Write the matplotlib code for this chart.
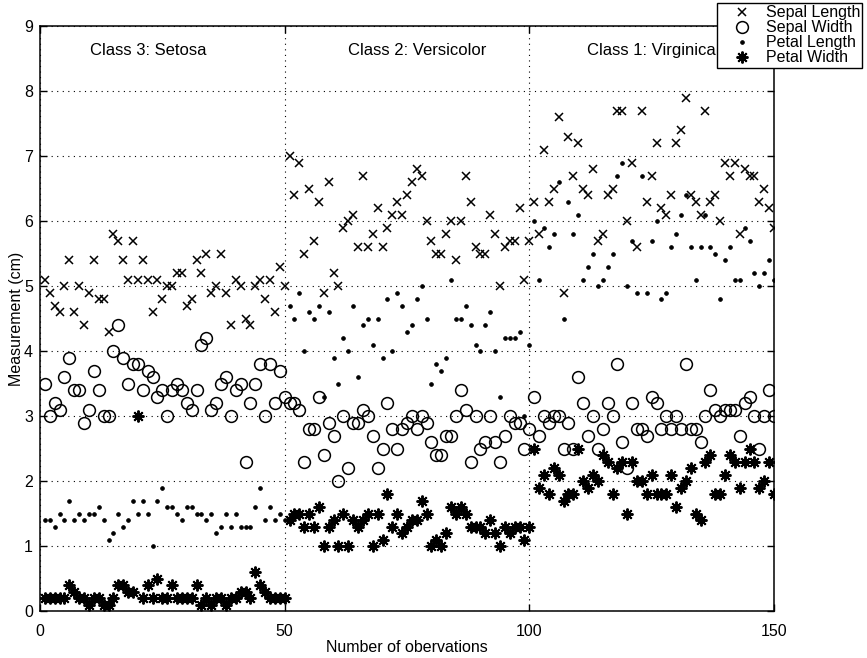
import matplotlib
matplotlib.use("Agg")
import matplotlib.pyplot as plt
import numpy as np

plt.rcParams['font.family'] = ['Liberation Sans', 'DejaVu Sans']

# Fisher iris measurements, in file order (setosa, versicolor, virginica)
sepal_length = [
    5.1, 4.9, 4.7, 4.6, 5.0, 5.4, 4.6, 5.0, 4.4, 4.9, 5.4, 4.8, 4.8, 4.3, 5.8, 5.7, 5.4, 5.1, 5.7, 5.1,
    5.4, 5.1, 4.6, 5.1, 4.8, 5.0, 5.0, 5.2, 5.2, 4.7, 4.8, 5.4, 5.2, 5.5, 4.9, 5.0, 5.5, 4.9, 4.4, 5.1,
    5.0, 4.5, 4.4, 5.0, 5.1, 4.8, 5.1, 4.6, 5.3, 5.0,
    7.0, 6.4, 6.9, 5.5, 6.5, 5.7, 6.3, 4.9, 6.6, 5.2, 5.0, 5.9, 6.0, 6.1, 5.6, 6.7, 5.6, 5.8, 6.2, 5.6,
    5.9, 6.1, 6.3, 6.1, 6.4, 6.6, 6.8, 6.7, 6.0, 5.7, 5.5, 5.5, 5.8, 6.0, 5.4, 6.0, 6.7, 6.3, 5.6, 5.5,
    5.5, 6.1, 5.8, 5.0, 5.6, 5.7, 5.7, 6.2, 5.1, 5.7,
    6.3, 5.8, 7.1, 6.3, 6.5, 7.6, 4.9, 7.3, 6.7, 7.2, 6.5, 6.4, 6.8, 5.7, 5.8, 6.4, 6.5, 7.7, 7.7, 6.0,
    6.9, 5.6, 7.7, 6.3, 6.7, 7.2, 6.2, 6.1, 6.4, 7.2, 7.4, 7.9, 6.4, 6.3, 6.1, 7.7, 6.3, 6.4, 6.0, 6.9,
    6.7, 6.9, 5.8, 6.8, 6.7, 6.7, 6.3, 6.5, 6.2, 5.9,
]
sepal_width = [
    3.5, 3.0, 3.2, 3.1, 3.6, 3.9, 3.4, 3.4, 2.9, 3.1, 3.7, 3.4, 3.0, 3.0, 4.0, 4.4, 3.9, 3.5, 3.8, 3.8,
    3.4, 3.7, 3.6, 3.3, 3.4, 3.0, 3.4, 3.5, 3.4, 3.2, 3.1, 3.4, 4.1, 4.2, 3.1, 3.2, 3.5, 3.6, 3.0, 3.4,
    3.5, 2.3, 3.2, 3.5, 3.8, 3.0, 3.8, 3.2, 3.7, 3.3,
    3.2, 3.2, 3.1, 2.3, 2.8, 2.8, 3.3, 2.4, 2.9, 2.7, 2.0, 3.0, 2.2, 2.9, 2.9, 3.1, 3.0, 2.7, 2.2, 2.5,
    3.2, 2.8, 2.5, 2.8, 2.9, 3.0, 2.8, 3.0, 2.9, 2.6, 2.4, 2.4, 2.7, 2.7, 3.0, 3.4, 3.1, 2.3, 3.0, 2.5,
    2.6, 3.0, 2.6, 2.3, 2.7, 3.0, 2.9, 2.9, 2.5, 2.8,
    3.3, 2.7, 3.0, 2.9, 3.0, 3.0, 2.5, 2.9, 2.5, 3.6, 3.2, 2.7, 3.0, 2.5, 2.8, 3.2, 3.0, 3.8, 2.6, 2.2,
    3.2, 2.8, 2.8, 2.7, 3.3, 3.2, 2.8, 3.0, 2.8, 3.0, 2.8, 3.8, 2.8, 2.8, 2.6, 3.0, 3.4, 3.1, 3.0, 3.1,
    3.1, 3.1, 2.7, 3.2, 3.3, 3.0, 2.5, 3.0, 3.4, 3.0,
]
petal_length = [
    1.4, 1.4, 1.3, 1.5, 1.4, 1.7, 1.4, 1.5, 1.4, 1.5, 1.5, 1.6, 1.4, 1.1, 1.2, 1.5, 1.3, 1.4, 1.7, 1.5,
    1.7, 1.5, 1.0, 1.7, 1.9, 1.6, 1.6, 1.5, 1.4, 1.6, 1.6, 1.5, 1.5, 1.4, 1.5, 1.2, 1.3, 1.5, 1.3, 1.5,
    1.3, 1.3, 1.3, 1.6, 1.9, 1.4, 1.6, 1.4, 1.5, 1.4,
    4.7, 4.5, 4.9, 4.0, 4.6, 4.5, 4.7, 3.3, 4.6, 3.9, 3.5, 4.2, 4.0, 4.7, 3.6, 4.4, 4.5, 4.1, 4.5, 3.9,
    4.8, 4.0, 4.9, 4.7, 4.3, 4.4, 4.8, 5.0, 4.5, 3.5, 3.8, 3.7, 3.9, 5.1, 4.5, 4.5, 4.7, 4.4, 4.1, 4.0,
    4.4, 4.6, 4.0, 3.3, 4.2, 4.2, 4.2, 4.3, 3.0, 4.1,
    6.0, 5.1, 5.9, 5.6, 5.8, 6.6, 4.5, 6.3, 5.8, 6.1, 5.1, 5.3, 5.5, 5.0, 5.1, 5.3, 5.5, 6.7, 6.9, 5.0,
    5.7, 4.9, 6.7, 4.9, 5.7, 6.0, 4.8, 4.9, 5.6, 5.8, 6.1, 6.4, 5.6, 5.1, 5.6, 6.1, 5.6, 5.5, 4.8, 5.4,
    5.6, 5.1, 5.1, 5.9, 5.7, 5.2, 5.0, 5.2, 5.4, 5.1,
]
petal_width = [
    0.2, 0.2, 0.2, 0.2, 0.2, 0.4, 0.3, 0.2, 0.2, 0.1, 0.2, 0.2, 0.1, 0.1, 0.2, 0.4, 0.4, 0.3, 0.3, 3.0,
    0.2, 0.4, 0.2, 0.5, 0.2, 0.2, 0.4, 0.2, 0.2, 0.2, 0.2, 0.4, 0.1, 0.2, 0.1, 0.2, 0.2, 0.1, 0.2, 0.2,
    0.3, 0.3, 0.2, 0.6, 0.4, 0.3, 0.2, 0.2, 0.2, 0.2,
    1.4, 1.5, 1.5, 1.3, 1.5, 1.3, 1.6, 1.0, 1.3, 1.4, 1.0, 1.5, 1.0, 1.4, 1.3, 1.4, 1.5, 1.0, 1.5, 1.1,
    1.8, 1.3, 1.5, 1.2, 1.3, 1.4, 1.4, 1.7, 1.5, 1.0, 1.1, 1.0, 1.2, 1.6, 1.5, 1.6, 1.5, 1.3, 1.3, 1.3,
    1.2, 1.4, 1.2, 1.0, 1.3, 1.2, 1.3, 1.3, 1.1, 1.3,
    2.5, 1.9, 2.1, 1.8, 2.2, 2.1, 1.7, 1.8, 1.8, 2.5, 2.0, 1.9, 2.1, 2.0, 2.4, 2.3, 1.8, 2.2, 2.3, 1.5,
    2.3, 2.0, 2.0, 1.8, 2.1, 1.8, 1.8, 1.8, 2.1, 1.6, 1.9, 2.0, 2.2, 1.5, 1.4, 2.3, 2.4, 1.8, 1.8, 2.1,
    2.4, 2.3, 1.9, 2.3, 2.5, 2.3, 1.9, 2.0, 2.3, 1.8,
]

series_names = ["Sepal Length", "Sepal Width", "Petal Length", "Petal Width"]
class_labels = ["Class 3: Setosa", "Class 2: Versicolor", "Class 1: Virginica"]
class_label_x = [10.2, 63, 111.8]
x_ticks = [0, 50, 100, 150]
y_ticks = list(range(0, 10))

obs = np.arange(1, len(sepal_length) + 1)

fig = plt.figure(figsize=(8.67, 6.58), dpi=100)
ax = fig.add_axes([40 / 867, 1 - 611 / 658, 734 / 867, 585 / 658])

asterisk = (8, 2, 0)
styles = [
    dict(marker='x', ms=6, mew=1.1, mfc='none'),
    dict(marker='o', ms=8.5, mew=1.1, mfc='none'),
    dict(marker='.', ms=5.5, mew=0.5),
    dict(marker=asterisk, ms=8.5, mew=1.4),
]
handles = []
for vals, name, st in zip([sepal_length, sepal_width, petal_length, petal_width],
                          series_names, styles):
    h, = ax.plot(obs, vals, linestyle='none', color='black', mec='black', label=name, **st)
    handles.append(h)

ax.set_xlim(0, 150)
ax.set_ylim(0, 9)
ax.set_xticks(x_ticks)
ax.set_yticks(y_ticks)
ax.tick_params(direction='in', length=5, width=1, top=True, right=True,
               labelsize=11.5, colors='black')
ax.tick_params(axis='x', pad=9)
ax.tick_params(axis='y', pad=5)
ax.grid(True, linestyle=(0, (1, 4)), color='black', linewidth=0.8)
for s in ax.spines.values():
    s.set_linewidth(1.1)

for lbl, xp in zip(class_labels, class_label_x):
    ax.text(xp, 8.63, lbl, fontsize=12, ha='left', va='center')

ax.set_xlabel("Number of obervations", fontsize=11.5, labelpad=1)
ax.set_ylabel("Measurement (cm)", fontsize=11.5, labelpad=0)

leg = fig.legend(handles=handles, loc='upper left',
                 bbox_to_anchor=(717 / 867, 1 - 3 / 658), fontsize=11.5,
                 fancybox=False, framealpha=1, edgecolor='black',
                 borderpad=0.15, labelspacing=0.0, handletextpad=0.1,
                 handlelength=2.8, borderaxespad=0)
leg.get_frame().set_linewidth(1.0)

fig.savefig("out.png", dpi=100)
